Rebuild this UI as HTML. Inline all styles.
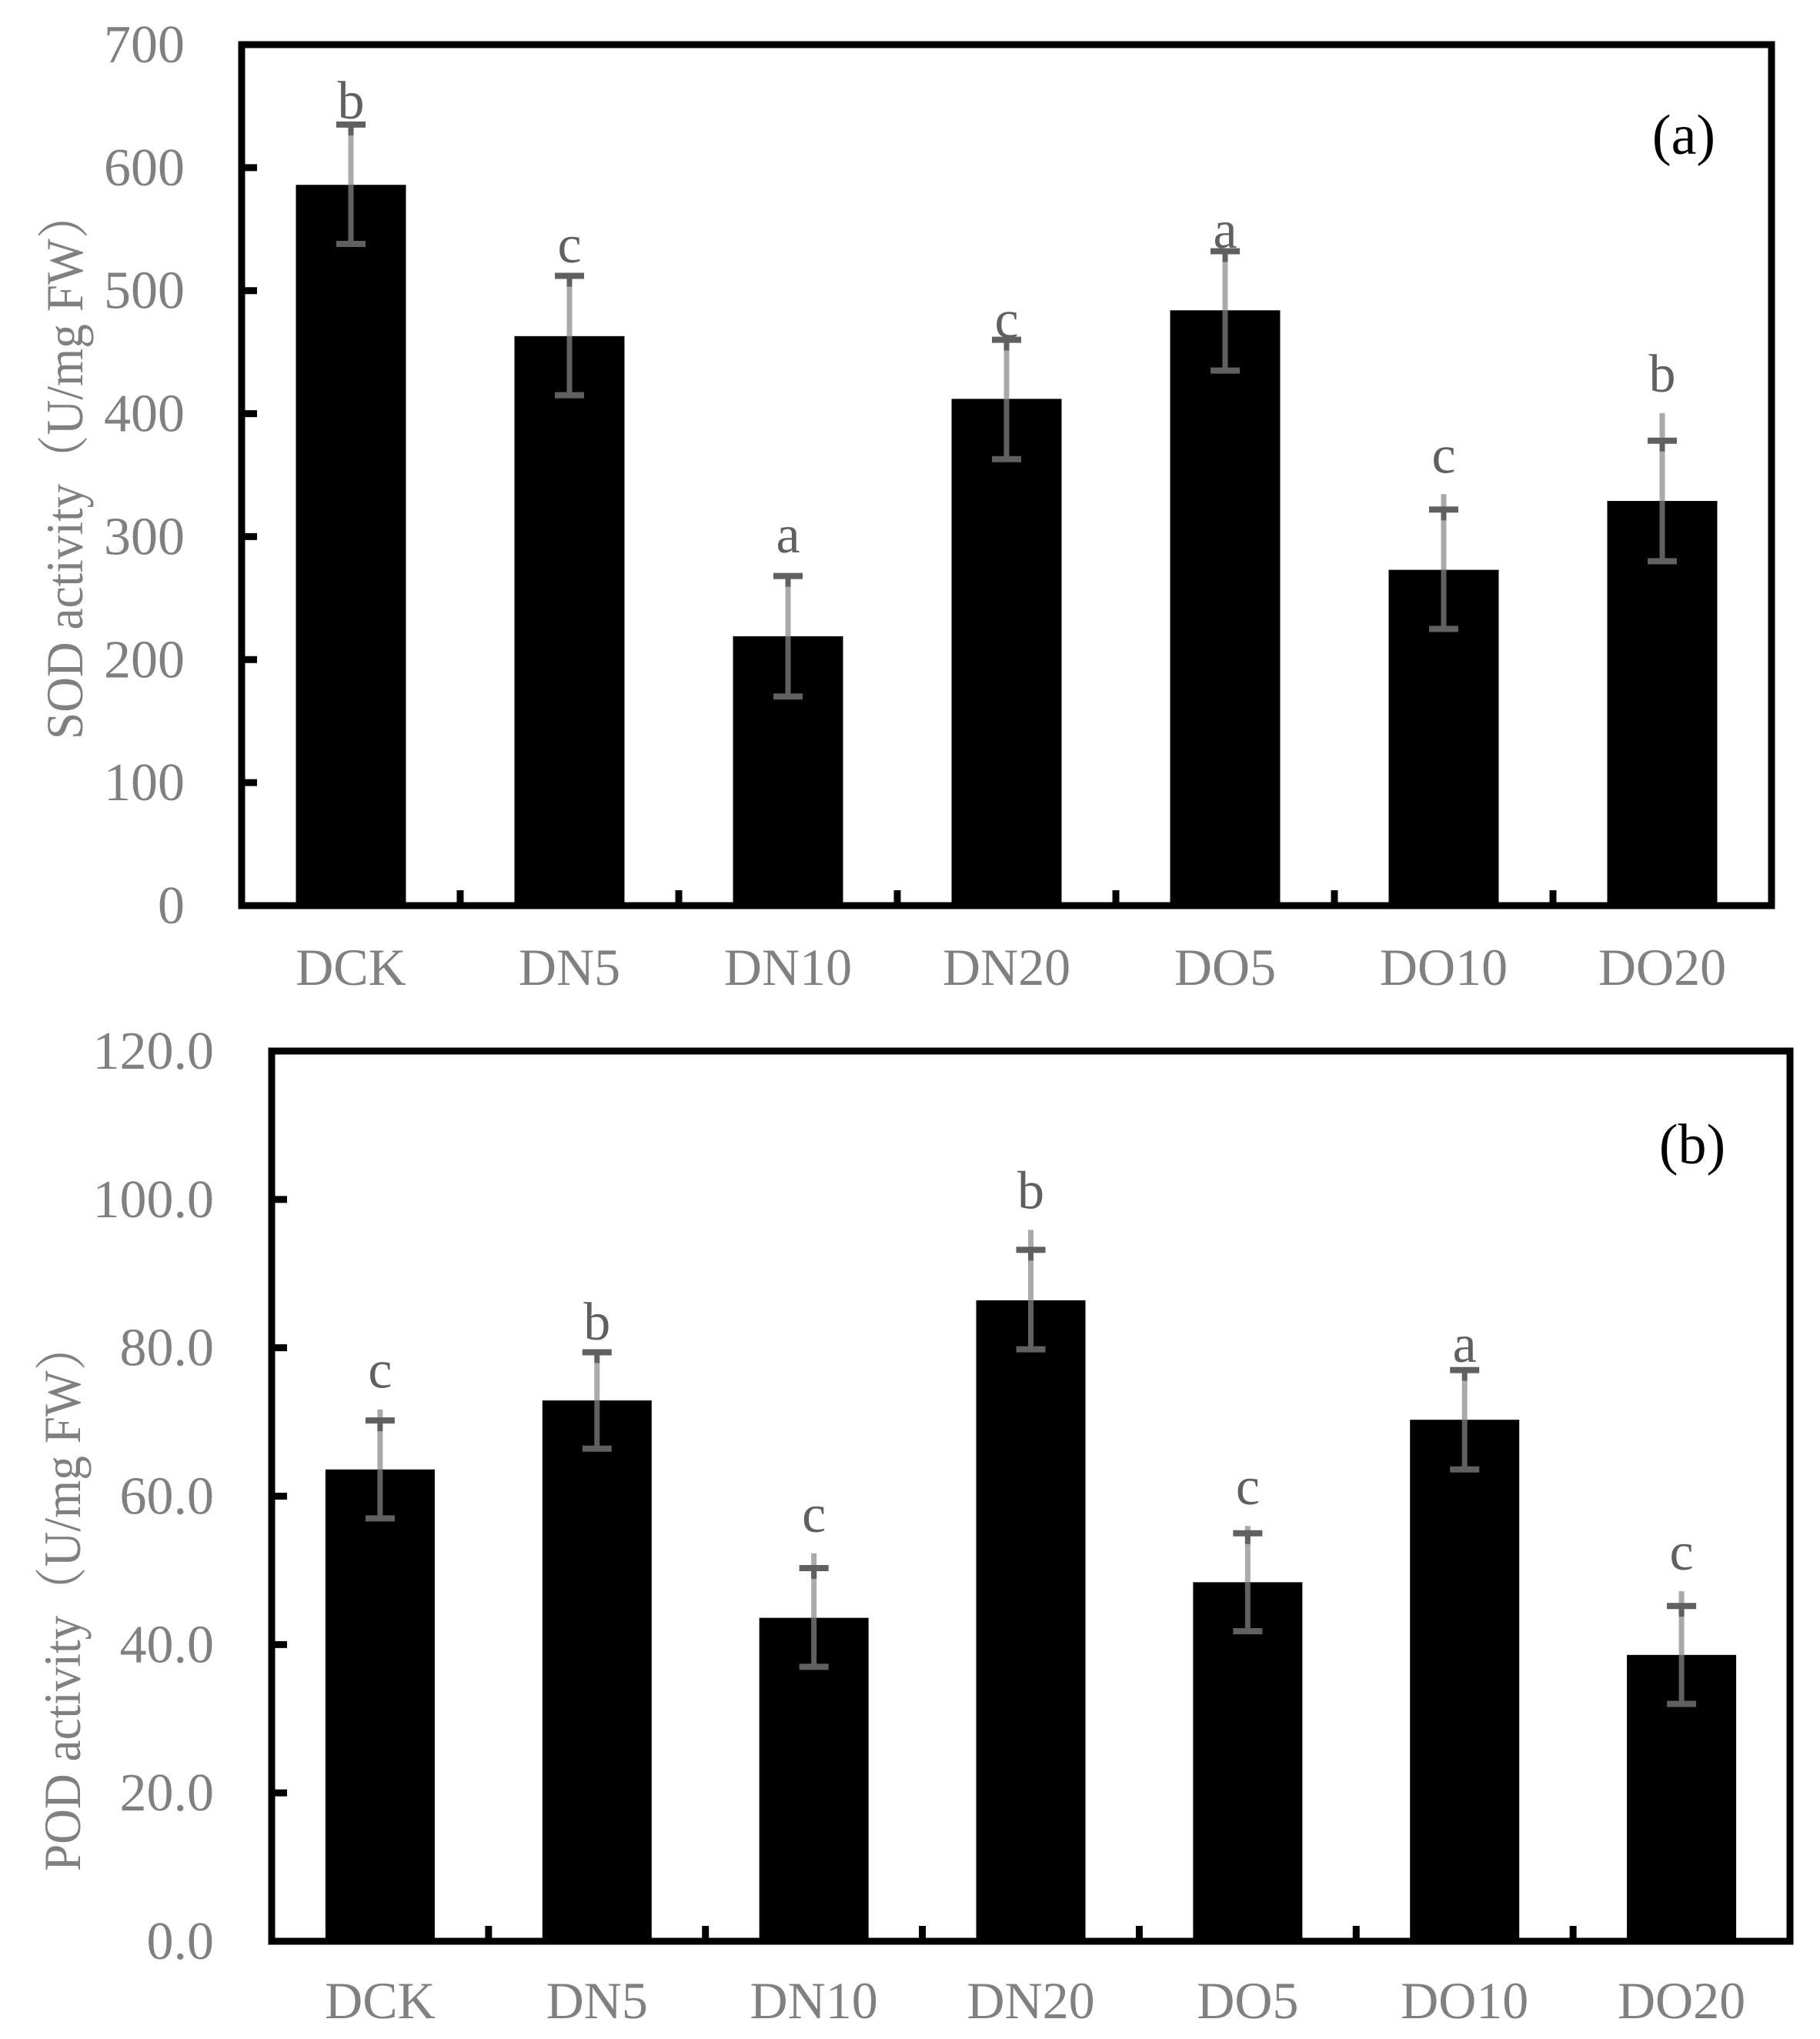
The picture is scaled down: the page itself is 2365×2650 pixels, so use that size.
<!DOCTYPE html>
<html><head><meta charset="utf-8"><style>
html,body{margin:0;padding:0;background:#fff;}
svg{display:block;font-family:"Liberation Serif","Noto Serif CJK SC",serif;}
</style></head><body>
<svg id="chart" width="2365" height="2650" viewBox="0 0 2365 2650" xmlns="http://www.w3.org/2000/svg"></svg>
<script>
const categories = ["DCK","DN5","DN10","DN20","DO5","DO10","DO20"];
const sodValues = [586, 463, 219, 412, 484, 273, 329];
const sodErrHigh = [635, 512, 268, 460, 532, 322, 378];
const sodErrLow = [538, 415, 170, 363, 435, 225, 280];
const sodLetters = ["b","c","a","c","a","c","b"];
const sodLetterPos = [640, 523, 287, 462, 535, 352, 418];
const sodTicks = [0,100,200,300,400,500,600,700];
const sodTickLabels = ["0","100","200","300","400","500","600","700"];
const podValues = [63.6, 72.9, 43.6, 86.4, 48.4, 70.3, 38.6];
const podErrHigh = [70.2, 79.4, 50.3, 93.2, 55.0, 77.0, 45.2];
const podErrLow = [57.0, 66.4, 37.0, 79.8, 41.8, 63.6, 32.0];
const podLetters = ["c","b","c","b","c","a","c"];
const podLetterPos = [74.6, 81.1, 55.2, 98.8, 58.9, 78.1, 50.1];
const podTicks = [0,20,40,60,80,100,120];
const podTickLabels = ["0.0","20.0","40.0","60.0","80.0","100.0","120.0"];

const NS = "http://www.w3.org/2000/svg";
const svg = document.getElementById('chart');
function mk(tag, attrs, parent, text) {
  const e = document.createElementNS(NS, tag);
  for (const k in attrs) e.setAttribute(k, attrs[k]);
  if (text !== undefined) e.textContent = text;
  (parent || svg).appendChild(e);
  return e;
}

function panel(cfg) {
  const g = mk('g', {});
  
  
  const L = cfg.left, R = cfg.right, T = cfg.top, B = cfg.bottom;
  const n = categories.length;
  const step = (R - L) / n;
  const yS = v => B - (v - cfg.min) / (cfg.max - cfg.min) * (B - T);
  const xC = i => L + step * (i + 0.5);
  categories.forEach((c, i) => {
    const y = yS(cfg.values[i]);
    const r = mk('rect', {x: xC(i) - cfg.barW / 2, y: y, width: cfg.barW, height: B - y, fill: '#000'}, g);
    
    
  });
  categories.forEach((c, i) => {
    const x = xC(i), yv = yS(cfg.values[i]), yh = yS(cfg.hi[i]), yl = yS(cfg.lo[i]);
    const ylab = yS(cfg.letterPos[i]);
    const lightTop = Math.min(yh + 12, ylab + 28);
    const eg = mk('g', {}, g);
    
    
    mk('line', {x1: x, y1: yv, x2: x, y2: lightTop, stroke: '#aaaaaa', 'stroke-width': 7}, eg);
    mk('line', {x1: x, y1: yh, x2: x, y2: yh + 14, stroke: '#606060', 'stroke-width': 7}, eg);
    mk('line', {x1: x, y1: yv, x2: x, y2: yl, stroke: '#606060', 'stroke-width': 7}, eg);
    mk('line', {x1: x - 19, y1: yh, x2: x + 19, y2: yh, stroke: '#606060', 'stroke-width': 8}, eg);
    mk('line', {x1: x - 19, y1: yl, x2: x + 19, y2: yl, stroke: '#606060', 'stroke-width': 8}, eg);
    const t = mk('text', {x: x, y: ylab, 'font-size': 70, fill: '#606060', 'text-anchor': 'middle'}, g, cfg.letters[i]);
    
    
  });
  const fr = mk('rect', {x: L, y: T, width: R - L, height: B - T, fill: 'none', stroke: '#000', 'stroke-width': 9}, g);
  
  
  cfg.ticks.forEach((v, i) => {
    const y = yS(v);
    mk('line', {x1: L, y1: y, x2: L + 20, y2: y, stroke: '#000', 'stroke-width': 9}, g);
    const t = mk('text', {x: cfg.tickRight, y: y + 23, 'font-size': 70, fill: '#808080', 'text-anchor': 'end'}, g, cfg.tickLabels[i]);
    
    
  });
  for (let i = 1; i < n; i++) {
    const x = L + step * i;
    mk('line', {x1: x, y1: B, x2: x, y2: B - 20, stroke: '#000', 'stroke-width': 9}, g);
  }
  categories.forEach((c, i) => {
    const t = mk('text', {x: xC(i), y: cfg.catY, 'font-size': 68, fill: '#808080', 'text-anchor': 'middle'}, g, c);
    
    
  });
  const yt = mk('text', {x: 0, y: 0, 'font-size': 68, fill: '#808080', 'text-anchor': 'middle',
    transform: 'translate(' + cfg.titleX + ',' + cfg.titleY + ') rotate(-90)',
    textLength: cfg.titleLen, lengthAdjust: 'spacingAndGlyphs'}, g, cfg.title);
  
  
  const pl = mk('text', {x: cfg.labX, y: cfg.labY, 'font-size': 74, fill: '#000', 'text-anchor': 'middle'}, g, cfg.label);
  
  
}

panel({name: 'sod-chart', left: 314, right: 2302, top: 58, bottom: 1177, min: 0, max: 700, barW: 143,
  values: sodValues, hi: sodErrHigh, lo: sodErrLow, letters: sodLetters, letterPos: sodLetterPos,
  ticks: sodTicks, tickLabels: sodTickLabels,
  tickRight: 240, catY: 1280, title: 'SOD activity（U/mg FW）', titleX: 107, titleY: 604, titleLen: 714,
  label: '(a)', labX: 2188, labY: 200});
panel({name: 'pod-chart', left: 353, right: 2326, top: 1366, bottom: 2523, min: 0, max: 120, barW: 142,
  values: podValues, hi: podErrHigh, lo: podErrLow, letters: podLetters, letterPos: podLetterPos,
  ticks: podTicks, tickLabels: podTickLabels,
  tickRight: 278, catY: 2623, title: 'POD activity（U/mg FW）', titleX: 104, titleY: 2075, titleLen: 714,
  label: '(b)', labX: 2199, labY: 1512});
</script>
</body></html>
